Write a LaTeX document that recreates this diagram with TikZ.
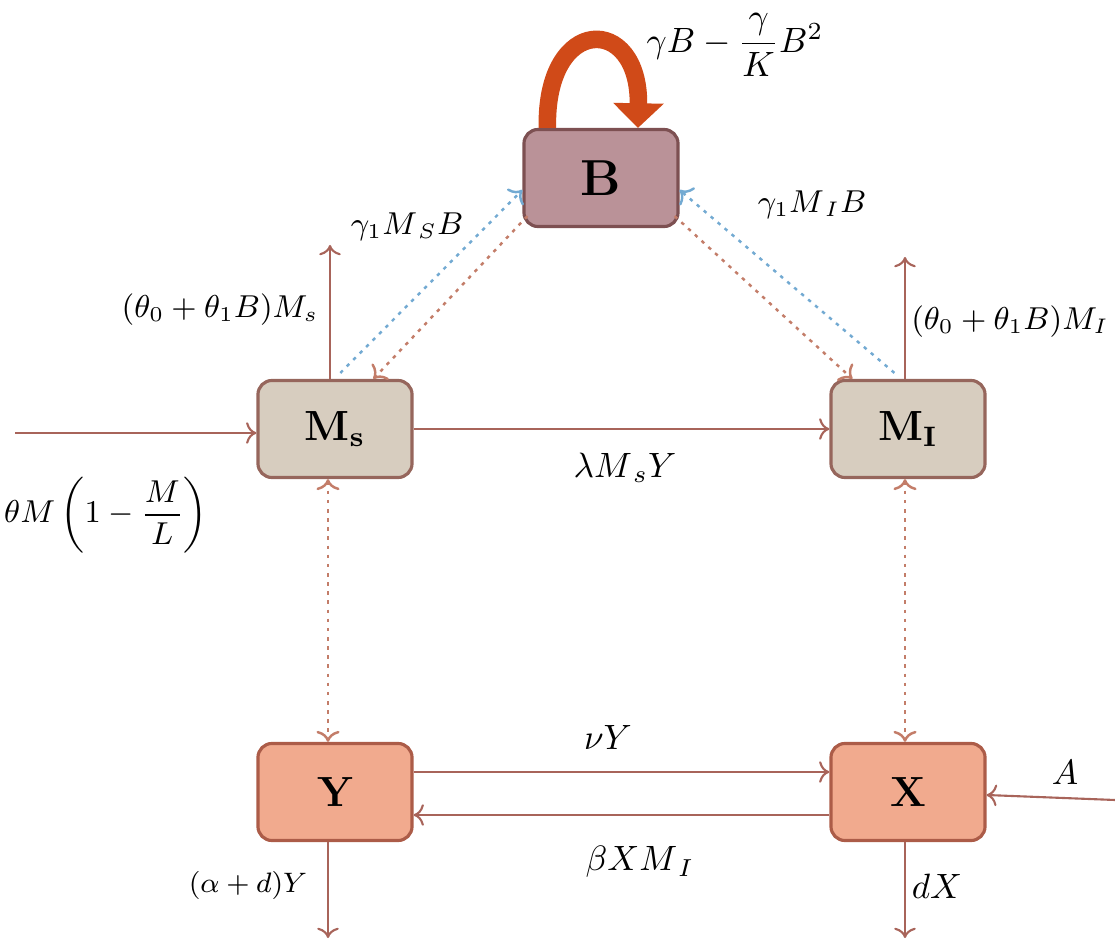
\documentclass[tikz,border=0pt]{standalone}
\usepackage{amsmath}
\usepackage{amssymb}
\usepackage{tikz}
\usetikzlibrary{calc}
\usetikzlibrary{arrows.meta}

\definecolor{bfill}{RGB}{186,146,152}
\definecolor{bline}{RGB}{125,80,82}
\definecolor{mfill}{RGB}{215,205,191}
\definecolor{mline}{RGB}{150,102,92}
\definecolor{yfill}{RGB}{241,170,142}
\definecolor{yline}{RGB}{172,92,72}
\definecolor{flowc}{RGB}{168,100,90}
\definecolor{dotc}{RGB}{195,125,105}
\definecolor{bluec}{RGB}{115,170,210}
\definecolor{loopc}{RGB}{208,74,24}

\begin{document}
\begin{tikzpicture}[x=0.01cm,y=-0.01cm,
    box/.style={draw, line width=0.9pt, rounded corners=4pt,
        minimum width=1.54cm, minimum height=0.97cm, font=\large\bfseries},
    flow/.style={->, draw=flowc, line width=0.6pt},
    dotarr/.style={->, draw=dotc, line width=0.7pt, dash pattern=on 1pt off 1.6pt},
    bluearr/.style={->, draw=bluec, line width=0.7pt, dash pattern=on 1pt off 1.6pt},
    lbl/.style={inner sep=1pt}]
    \useasboundingbox (0,0) rectangle (1115,940);

    % compartments
    \node[box, fill=bfill, draw=bline, font=\Large\bfseries] (B) at (601,178) {B};
    \node[box, fill=mfill, draw=mline] (Ms) at (335,429) {M$_{\mathbf{s}}$};
    \node[box, fill=mfill, draw=mline] (MI) at (908,429) {M$_{\mathbf{I}}$};
    \node[box, fill=yfill, draw=yline] (Y) at (335,792) {Y};
    \node[box, fill=yfill, draw=yline] (X) at (908,792) {X};

    % logistic growth of B
    \draw[loopc, line width=5pt, -{Triangle[width=14pt,length=7pt]}]
        ($(B.north west)+(25,0)$) .. controls (545,14) and (640,14) .. ($(B.north)+(37,0)$);
    \node[lbl] (lgrow) at (735,45) {$\gamma B-\dfrac{\gamma}{K}B^{2}$};

    % recruitment and losses
    \coordinate (in) at (15,433);
    \draw[flow] (in) -- (in -| Ms.west);
    \node[lbl, font=\small] (llogi) at (106,515) {$\theta M\left(1-\dfrac{M}{L}\right)$};
    \coordinate (msout) at (330,245);
    \draw[flow] (msout |- Ms.north) -- (msout);
    \node[lbl, font=\small] (lms) at (220,310) {$(\theta_0+\theta_1B)M_{s}$};
    \coordinate (miout) at (905,257);
    \draw[flow] (miout |- MI.north) -- (miout);
    \node[lbl, font=\small] (lmi) at (1010,322) {$(\theta_0+\theta_1B)M_{I}$};

    % exchange with B
    \draw[bluearr] ($(Ms.north west)+(84,-6)$) -- ($(B.west)+(0,12)$);
    \draw[dotarr] ($(B.south west)+(5,-12)$) -- ($(Ms.north west)+(117,0)$);
    \draw[bluearr] ($(MI.north west)+(65,-6)$) -- ($(B.east)+(0,12)$);
    \draw[dotarr] ($(B.south east)+(-5,-12)$) -- ($(MI.north west)+(23,0)$);
    \node[lbl, font=\small] (lgs) at (407,227) {$\gamma_1M_{\,S}B$};
    \node[lbl, font=\small] (lgi) at (812,205) {$\gamma_1M_{\,I}B$};

    % infection
    \draw[flow] (Ms.east) -- (MI.west);
    \node[lbl] (llam) at (625,468) {$\lambda M_{\,s}Y$};

    % vertical couplings
    \draw[dotarr, <->] ($(Ms.south)+(-7,0)$) -- ($(Y.north)+(-7,0)$);
    \draw[dotarr, <->] ($(MI.south)+(-3,0)$) -- ($(X.north)+(-3,0)$);

    % Y and X
    \draw[flow] ($(Y.east)+(0,-20)$) -- ($(X.west)+(0,-20)$);
    \node[lbl] (lnu) at (608,737) {$\nu Y$};
    \draw[flow] ($(X.west)+(0,23)$) -- ($(Y.east)+(0,23)$);
    \node[lbl] (lbeta) at (640,862) {$\beta XM_{\,I}$};
    \coordinate (ain) at (1115,800);
    \draw[flow] (ain) -- ($(X.east)+(0,3)$);
    \node[lbl] (la) at (1065,772) {$A$};
    \coordinate (yout) at (328,938);
    \draw[flow] (yout |- Y.south) -- (yout);
    \node[lbl, font=\footnotesize] (lad) at (248,885) {$(\alpha+d)Y$};
    \coordinate (xout) at (905,938);
    \draw[flow] (xout |- X.south) -- (xout);
    \node[lbl] (ldx) at (937,886) {$dX$};
\end{tikzpicture}
\end{document}
